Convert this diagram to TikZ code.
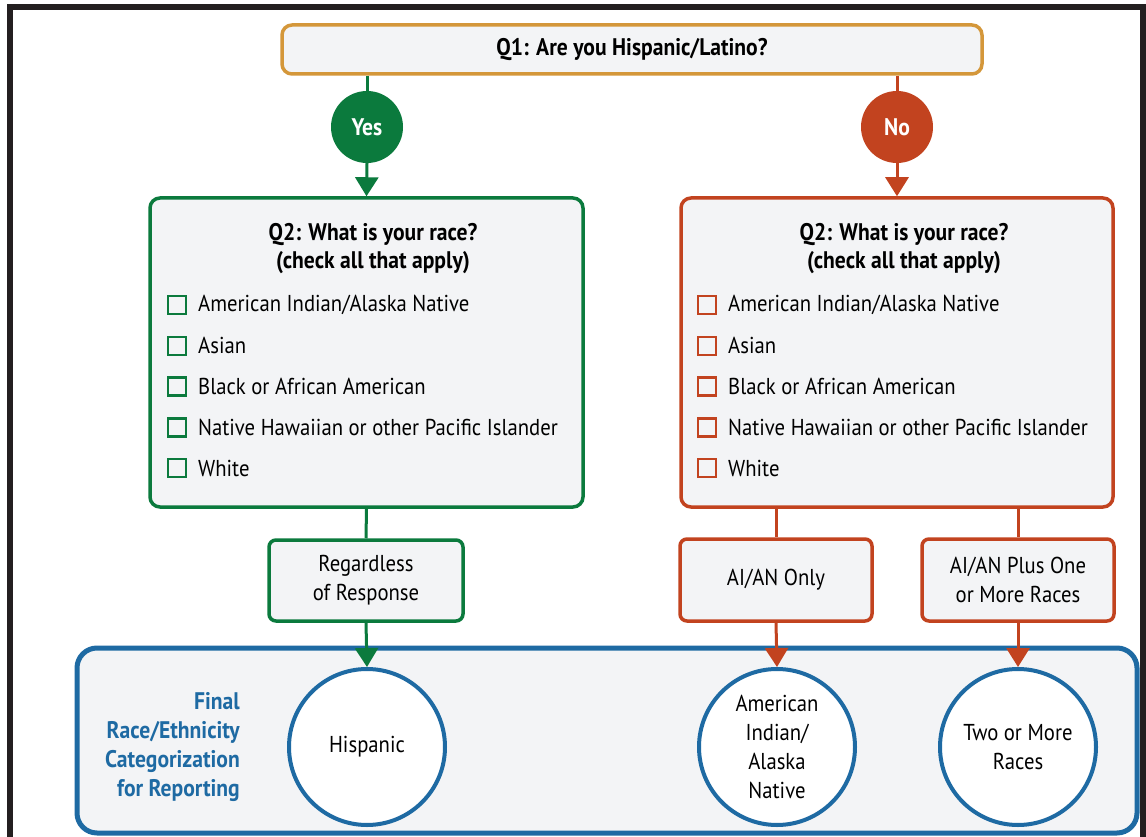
\documentclass[tikz,border=0pt]{standalone}
\usepackage{fontspec}
\setmainfont{PT Sans}[FakeStretch=0.9]
\usepackage{xcolor}
\usepackage{tikz}
\usetikzlibrary{arrows.meta, positioning}

\definecolor{qgreen}{HTML}{0B7A3D}
\definecolor{qred}{HTML}{C2431F}
\definecolor{qgold}{HTML}{D4973A}
\definecolor{qblue}{HTML}{1E6AA3}
\definecolor{qfill}{HTML}{F3F4F6}
\definecolor{qframe}{HTML}{231F20}

\begin{document}
\begin{tikzpicture}[x=1pt, y=-1pt,
    box/.style={draw, line width=3.5pt, fill=qfill, rounded corners=10pt, align=center,
      inner sep=0pt, font=\fontsize{23}{29}\selectfont},
    answer/.style={circle, fill, minimum size=72pt, inner sep=0pt, text=white,
      font=\bfseries\fontsize{24}{24}\selectfont},
    result/.style={circle, draw=qblue, line width=4pt, fill=white, minimum size=156pt,
      inner sep=0pt, align=center, font=\fontsize{23}{29}\selectfont},
    link/.style={line width=3pt},
    arr/.style={line width=3pt, -{Triangle[width=23pt, length=19pt]}}]
      \useasboundingbox (0,0) rectangle (1146,837);

      % Outer frame (bottom is cut off)
      \draw[qframe, line width=6pt] (10,840) -- (10,7) -- (1143,7) -- (1143,840);

      % Question 1
      \node[box, draw=qgold, minimum width=700pt, minimum height=49pt,
        font=\bfseries\fontsize{24}{24}\selectfont] (q1) at (632,49.5) {Q1: Are you Hispanic/Latino?};

      % Yes / No answers
      \node[answer, fill=qgreen] (yes) at (367,127) {Yes};
      \node[answer, fill=qred] (no) at (897,127) {No};

      % Question 2 boxes
      \node[box, draw=qgreen, minimum width=433pt, minimum height=309pt] (q2l) at (366.5,352.5) {};
      \node[box, draw=qred, minimum width=432pt, minimum height=309pt] (q2r) at (897,352.5) {};
      \node[align=center, font=\bfseries\fontsize{24}{28}\selectfont] (q2l-t) at (373,249)
        {Q2: What is your race?\\(check all that apply)};
      \node[align=center, font=\bfseries\fontsize{24}{28}\selectfont] (q2r-t) at (904,249)
        {Q2: What is your race?\\(check all that apply)};

      % Check boxes and race options
      \foreach \x/\c/\s in {168/qgreen/l, 698/qred/r} {
        \foreach \t [count=\i] in {American Indian/Alaska Native, Asian, Black or African American,
            Native Hawaiian or other Pacific Islander, White} {
          \draw[\c, line width=2.5pt] (\x,296+40.75*\i-40.75) rectangle ++(18,18);
          \node[anchor=west, inner sep=0pt, font=\fontsize{23}{24}\selectfont]
            (opt-\s\i) at (\x+30,305+40.75*\i-40.75) {\t};
        }
      }

      % Response boxes
      \node[box, draw=qgreen, rounded corners=7pt, minimum width=194pt, minimum height=81pt] (resp) at (366,580.5)
        {Regardless\\of Response};
      \node[box, draw=qred, rounded corners=7pt, minimum width=192pt, minimum height=82pt] (aian) at (776,580)
        {AI/AN Only};
      \node[box, draw=qred, rounded corners=7pt, minimum width=192pt, minimum height=82pt] (plus) at (1018,580)
        {AI/AN Plus One\\or More Races};

      % Final categorization panel
      \node[draw=qblue, line width=5pt, fill=qfill, rounded corners=20pt,
        minimum width=1060pt, minimum height=185pt] (final) at (607,740.5) {};
      \node[anchor=east, align=right, text=qblue, inner sep=0pt,
        font=\bfseries\fontsize{24}{29}\selectfont] (final-t) at (240,747)
        {Final\\Race/Ethnicity\\Categorization\\for Reporting};

      % Reporting categories
      \node[result] (hisp) at (367,747) {Hispanic};
      \node[result] (aian-c) at (777,747) {American\\Indian/\\Alaska\\Native};
      \node[result] (two) at (1018,747) {Two or More\\Races};

      % Connectors
      \draw[link, qgreen] (yes |- q1.south) -- (yes.north);
      \draw[arr, qgreen] (yes.south) -- (q2l.north);
      \draw[link, qgreen] (q2l.south) -- (resp.north);
      \draw[arr, qgreen] (resp.south) -- (hisp.north);

      \draw[link, qred] (no |- q1.south) -- (no.north);
      \draw[arr, qred] (no.south) -- (q2r.north);
      \draw[link, qred] (aian |- q2r.south) -- (aian.north);
      \draw[arr, qred] (aian.south) -- (aian-c.north);
      \draw[link, qred] (plus |- q2r.south) -- (plus.north);
      \draw[arr, qred] (plus.south) -- (two.north);

    \end{tikzpicture}
\end{document}
